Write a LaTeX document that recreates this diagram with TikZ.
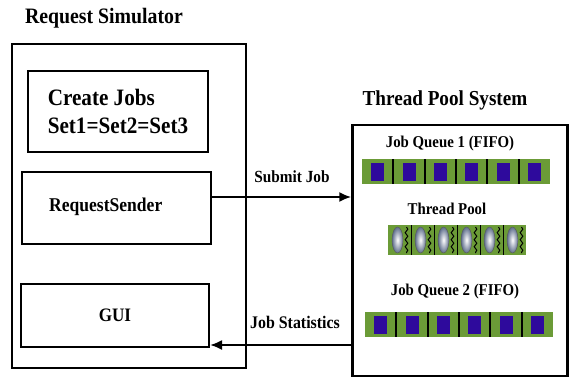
\documentclass[tikz,border=0pt]{standalone}
\usepackage{fontspec}
\setmainfont[FakeStretch=0.9]{Liberation Serif}
\usetikzlibrary{arrows.meta,decorations.pathmorphing}
\definecolor{qgreen}{RGB}{107,155,55}
\definecolor{qpurple}{RGB}{46,10,156}
\definecolor{gearblue}{RGB}{95,110,140}
\newcommand\drawqueue[2]{% #1 = left x, #2 = top y
  \foreach \i in {0,...,5}{
    \pgfmathsetmacro\cx{#1+15.67+31.33*\i}
    \fill[qpurple] (\cx-6.5,#2+4) rectangle (\cx+6.5,#2+22);
  }
  \foreach \i in {1,...,5}{
    \draw[divider] (#1+31.33*\i,#2) -- (#1+31.33*\i,#2+25);
  }
}
\begin{document}
\begin{tikzpicture}[x=1pt,y=-1pt,
  box/.style={draw, line width=2pt, inner sep=0pt},
  ttl/.style={font=\bfseries\fontsize{22}{24}\selectfont, inner sep=0pt},
  lbl/.style={font=\bfseries\fontsize{16.5}{19}\selectfont, inner sep=0pt},
  arr/.style={line width=2pt, -{Latex[length=12pt,width=10pt]}},
  divider/.style={line width=1.8pt, black},
  bar/.style={fill=qgreen, inner sep=0pt},
  gear/.style={draw=gray!70!black, line width=0.4pt, inner color=white, outer color=gearblue},
  wave/.style={line width=1pt, decorate, decoration={snake, amplitude=1.3pt, segment length=7pt}}]
\useasboundingbox (0,0) rectangle (569,378);

% ---------- Request Simulator ----------
\node[ttl] (simtitle) at (104,18) {Request Simulator};
\node[box, line width=2.5pt, minimum width=234pt, minimum height=324pt] (sim) at (129,206) {};
\node[box, line width=1.2pt, minimum width=180pt, minimum height=81pt, align=left,
      font=\bfseries\fontsize{23.5}{28}\selectfont] (create) at (118,111.5) {Create Jobs\\Set1=Set2=Set3};
\node[box, minimum width=189pt, minimum height=72pt] (sender) at (116.5,208) {};
\node[font=\bfseries\fontsize{19.5}{22}\selectfont, anchor=west, inner sep=0pt] (sendertxt) at (49,207) {RequestSender};
\node[box, minimum width=188pt, minimum height=63pt] (gui) at (115,315.5) {};
\node[font=\bfseries\fontsize{19}{22}\selectfont, inner sep=0pt] (guitxt) at (115,315) {GUI};

% ---------- Thread Pool System ----------
\node[ttl, font=\bfseries\fontsize{21.3}{24}\selectfont] (pooltitle) at (445,100) {Thread Pool System};
\node[box, line width=2.5pt, minimum width=215pt, minimum height=251pt] (pool) at (460,250.5) {};

\node[lbl] (q1title) at (450,144) {Job Queue 1 (FIFO)};
\node[bar, minimum width=188pt, minimum height=25pt] (q1) at (456,171.5) {};
\drawqueue{362}{159}

\node[lbl] (tptitle) at (447,209) {Thread Pool};
\node[bar, minimum width=138pt, minimum height=30pt] (tp) at (457,240) {};
\foreach \i in {0,...,5}{
  \pgfmathsetmacro\L{388+23*\i}
  \shade[gear] (\L+9.5,240) ellipse [x radius=5.5pt, y radius=13pt];
  \draw[wave] (\L+18.5,227) -- (\L+18.5,253);
}
\foreach \i in {1,...,5}{
  \draw[line width=1pt] (388+23*\i,225) -- (388+23*\i,255);
}

\node[lbl] (q2title) at (455,292) {Job Queue 2 (FIFO)};
\node[bar, minimum width=188pt, minimum height=25pt] (q2) at (459,324.5) {};
\drawqueue{365}{312}

% ---------- connectors ----------
\coordinate (sj) at ([yshift=11pt]sender.east);
\draw[arr] (sj) -- (sj -| pool.west);
\node[lbl, font=\bfseries\fontsize{17}{19}\selectfont] (sjl) at (292,177) {Submit Job};
\coordinate (js) at ([yshift=-29.5pt]gui.east);
\draw[arr] (js -| pool.west) -- (js);
\node[lbl, font=\bfseries\fontsize{17.7}{19}\selectfont] (jsl) at (295,322) {Job Statistics};
\end{tikzpicture}
\end{document}
